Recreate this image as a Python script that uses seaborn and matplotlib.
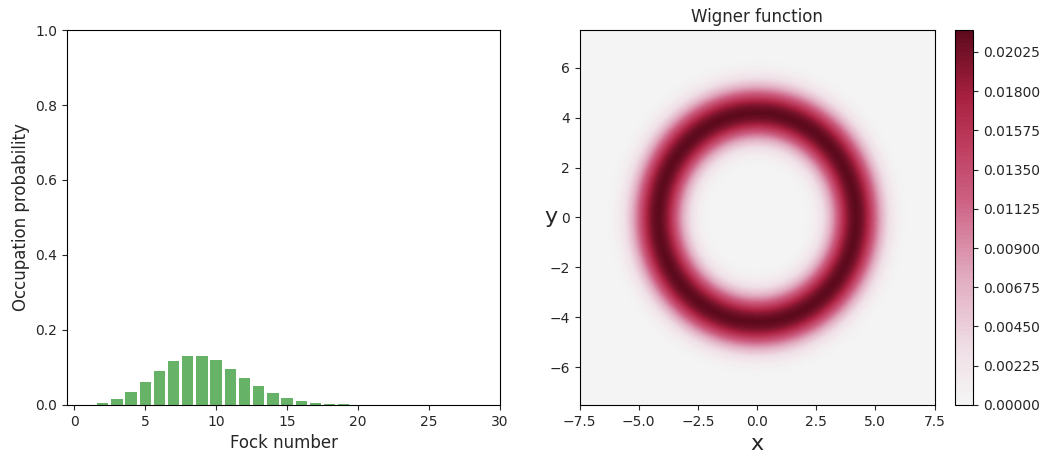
import numpy as np
import pandas as pd
import matplotlib
matplotlib.use("Agg")
import matplotlib.pyplot as plt
import matplotlib.colors as mcolors
import matplotlib.ticker as mticker
import seaborn as sns

# ---- data ----
fock_n = list(range(30))
occupation = [0.0001, 0.0011, 0.0050, 0.0150, 0.0337, 0.0607, 0.0911, 0.1171,
              0.1318, 0.1318, 0.1186, 0.0970, 0.0728, 0.0504, 0.0324, 0.0194,
              0.0109, 0.0058, 0.0029, 0.0014, 0.0006, 0.0003, 0.0001, 0.0,
              0.0, 0.0, 0.0, 0.0, 0.0, 0.0]
x_range = [-7.5, 7.5]
grid_points = 200

sns.set_style("white")
plt.rcParams['font.family'] = ['DejaVu Sans']
plt.rcParams['axes.edgecolor'] = 'black'
plt.rcParams['xtick.bottom'] = True
plt.rcParams['ytick.left'] = True

fig = plt.figure(figsize=(10.5, 4.55), dpi=100)
ax1 = fig.add_axes([0.064, 0.110, 0.412, 0.824])
ax2 = fig.add_axes([0.552, 0.110, 0.338, 0.824])
cax = fig.add_axes([0.9095, 0.110, 0.0175, 0.824])

# ---- Fock distribution ----
df = pd.DataFrame({"n": fock_n, "p": occupation})
sns.barplot(data=df, x="n", y="p", native_scale=True, color="green",
            alpha=0.6, saturation=1, width=0.8, ax=ax1, edgecolor="none")
ax1.set_xlim(-0.5, 30)
ax1.set_ylim(0, 1)
ax1.set_xticks([0, 5, 10, 15, 20, 25, 30])
ax1.set_yticks([0.0, 0.2, 0.4, 0.6, 0.8, 1.0])
ax1.set_xlabel("Fock number", fontsize=12)
ax1.set_ylabel("Occupation probability", fontsize=12)

# ---- Wigner function of the diagonal state built from the Fock values ----
xvec = np.linspace(x_range[0], x_range[1], grid_points)
X, Y = np.meshgrid(xvec, xvec)
R2 = X**2 + Y**2
u = 2 * R2
L_prev = np.ones_like(u)
L_cur = 1 - u
W = occupation[0] * L_prev - occupation[1] * L_cur
for k in range(1, len(occupation) - 1):
    L_next = ((2 * k + 1 - u) * L_cur - k * L_prev) / (k + 1)
    L_prev, L_cur = L_cur, L_next
    W += ((-1) ** (k + 1)) * occupation[k + 1] * L_cur
W = W * np.exp(-R2) / np.pi
W = np.clip(W, 0, None)

cmap = mcolors.LinearSegmentedColormap.from_list(
    "wig", [(0.0, "#f5f5f5"), (0.15, "#efdfe6"), (0.35, "#e0a8bd"),
            (0.55, "#cc5f82"), (0.7, "#bd3c5e"), (0.82, "#a8203f"),
            (1.0, "#5c0a1d")])
cf = ax2.contourf(xvec, xvec, W, 100, cmap=cmap)
ax2.set_xlim(x_range)
ax2.set_ylim(x_range)
ax2.xaxis.set_major_locator(mticker.MultipleLocator(2.5))
ax2.set_title("Wigner function", fontsize=12)
ax2.set_xlabel("x", fontsize=16)
ax2.set_ylabel("y", fontsize=16, rotation=0, labelpad=-1, va="center")
fig.colorbar(cf, cax=cax)

for a in (ax1, ax2, cax):
    a.tick_params(labelsize=10, direction="out", length=3.5)

fig.savefig("out.png", dpi=100)
